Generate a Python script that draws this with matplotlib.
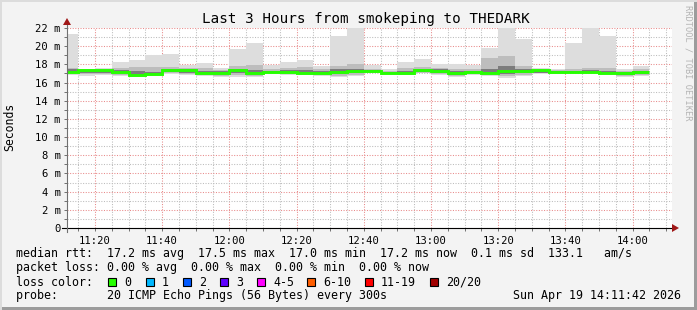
import numpy as np
import matplotlib
matplotlib.use("Agg")
import matplotlib.pyplot as plt
from matplotlib.patches import Rectangle, Polygon

# ---------------- data (ms, 5-minute steps starting 11:10) ----------------
step_start = np.arange(670, 845, 5)          # minutes since midnight, 11:10 .. 14:00
ping_max = [21.3, 17.5, 17.6, 18.3, 18.5, 19.0, 19.1, 17.9, 18.2, 17.6, 19.7, 20.4,
            17.9, 18.3, 18.5, 17.8, 21.1, 22.5, 17.95, 17.5, 18.3, 18.6, 18.0, 18.0,
            17.9, 19.8, 22.5, 20.8, 17.6, 17.5, 20.3, 22.5, 21.1, 17.5, 17.8]
ping_p90 = [17.6, 17.45, 17.5, 17.6, 17.7, 17.7, 17.7, 17.6, 17.6, 17.4, 17.8, 17.9,
            17.5, 17.6, 17.7, 17.5, 17.8, 18.0, 17.5, 17.3, 17.6, 17.7, 17.6, 17.5,
            17.5, 18.7, 18.9, 17.8, 17.5, 17.4, 17.5, 17.6, 17.6, 17.3, 17.5]
ping_p75 = [17.5, 17.4, 17.4, 17.4, 17.3, 17.2, 17.5, 17.45, 17.3, 17.25, 17.5, 17.4,
            17.3, 17.4, 17.4, 17.3, 17.5, 17.5, 17.4, 17.2, 17.3, 17.5, 17.45, 17.3,
            17.3, 17.5, 17.8, 17.5, 17.4, 17.3, 17.3, 17.35, 17.3, 17.2, 17.3]
ping_med = [17.15, 17.35, 17.35, 17.15, 16.85, 16.9, 17.35, 17.35, 17.1, 17.1, 17.35, 17.1,
            17.2, 17.2, 17.0, 17.0, 17.15, 17.3, 17.3, 17.1, 17.0, 17.35, 17.3, 17.1,
            17.15, 17.0, 17.3, 17.3, 17.35, 17.15, 17.2, 17.2, 17.0, 17.05, 17.15]
ping_p25 = [17.0, 17.1, 17.1, 17.0, 16.75, 16.8, 17.2, 17.1, 16.9, 16.9, 17.1, 16.9,
            17.1, 17.0, 16.95, 16.9, 16.9, 17.0, 17.2, 17.0, 16.9, 17.2, 17.1, 16.8,
            17.0, 16.9, 16.9, 17.0, 17.1, 17.0, 17.1, 17.1, 16.95, 16.8, 16.9]
ping_p10 = [16.9, 16.9, 16.9, 16.8, 16.65, 16.75, 17.0, 16.9, 16.8, 16.7, 16.8, 16.7,
            17.0, 16.9, 16.9, 16.8, 16.7, 16.8, 17.1, 16.95, 16.85, 17.1, 16.9, 16.7,
            16.9, 16.8, 16.7, 16.8, 17.0, 16.95, 17.05, 17.05, 16.9, 16.7, 16.8]
ping_min = [16.8, 16.7, 16.8, 16.7, 16.6, 16.7, 16.9, 16.8, 16.7, 16.6, 16.6, 16.6,
            16.9, 16.8, 16.8, 16.7, 16.6, 16.7, 17.0, 16.9, 16.8, 17.0, 16.8, 16.6,
            16.8, 16.7, 16.5, 16.7, 16.9, 16.9, 17.0, 17.0, 16.9, 16.6, 16.7]

x_start, x_end = 671.7, 851.7                 # 11:11:42 .. 14:11:42
xtick_pos = [680, 700, 720, 740, 760, 780, 800, 820, 840]
xtick_labels = ["11:20", "11:40", "12:00", "12:20", "12:40", "13:00", "13:20", "13:40", "14:00"]
ytick_pos = [0, 2, 4, 6, 8, 10, 12, 14, 16, 18, 20, 22]
ytick_labels = ["0", "2 m", "4 m", "6 m", "8 m", "10 m", "12 m", "14 m", "16 m",
                "18 m", "20 m", "22 m"]

legend_rtt = "median rtt:  17.2 ms avg  17.5 ms max  17.0 ms min  17.2 ms now  0.1 ms sd  133.1   am/s"
legend_loss = "packet loss: 0.00 % avg  0.00 % max  0.00 % min  0.00 % now"
loss_labels = ["0", "1", "2", "3", "4-5", "6-10", "11-19", "20/20"]
loss_colors = ["#26ff00", "#00b8ff", "#0059ff", "#5e00ff", "#ff00ff", "#ff5e00", "#ff0000", "#a10000"]
probe_text = "probe:       20 ICMP Echo Pings (56 Bytes) every 300s"
date_text = "Sun Apr 19 14:11:42 2026"
title = "Last 3 Hours from smokeping to THEDARK"

# ---------------- figure ----------------
W, H = 697, 310
fig = plt.figure(figsize=(W / 100, H / 100), dpi=100, facecolor="#f3f3f3")
MONO = "DejaVu Sans Mono"

def fx(x):
    return x / W

def fy(y):
    return 1 - y / H

# frame
fig.patches.append(Rectangle((0, 0), 1, fy(307), transform=fig.transFigure,
                             facecolor="#9c9c9c", edgecolor="none", zorder=0))
fig.patches.append(Rectangle((fx(694), 0), fx(3), 1, transform=fig.transFigure,
                             facecolor="#9c9c9c", edgecolor="none", zorder=0))
fig.patches.append(Rectangle((0, fy(310)), fx(2), 1, transform=fig.transFigure,
                             facecolor="#dcdcdc", edgecolor="none", zorder=0))
fig.patches.append(Rectangle((0, fy(2)), 1, fy(0) - fy(2), transform=fig.transFigure,
                             facecolor="#dcdcdc", edgecolor="none", zorder=0))

L, R, T, B = 67, 672, 28, 228
ax = fig.add_axes([fx(L), fy(B), fx(R - L), fy(T) - fy(B)])
ax.set_facecolor("white")
ax.set_xlim(x_start, x_end)
ax.set_ylim(0, 22)

edges = np.append(step_start, step_start[-1] + 5).astype(float)

ax.stairs(ping_max, edges, baseline=ping_min, fill=True, color="#dddddd", zorder=2)
ax.stairs(ping_p90, edges, baseline=ping_p10, fill=True, color="#bdbdbd", zorder=3)
ax.stairs(ping_p75, edges, baseline=ping_p25, fill=True, color="#7c7c7c", zorder=4)
ax.stairs(ping_med, edges, baseline=None, color="#26ff00", linewidth=2.1, zorder=6)

# grid
ax.set_yticks(ytick_pos)
ax.set_yticklabels(ytick_labels, fontfamily=MONO, fontsize=7.6)
ax.set_yticks(np.arange(1, 22, 2), minor=True)
ax.set_xticks(xtick_pos)
ax.set_xticklabels(xtick_labels, fontfamily=MONO, fontsize=7.6)
ax.set_xticks(np.arange(675, 851, 5), minor=True)
ax.grid(which="major", color="#e88a8a", linestyle=(0, (1, 1.5)), linewidth=0.75, zorder=1)
ax.grid(which="minor", color="#bcbcbc", linestyle=(0, (1, 1.5)), linewidth=0.75, zorder=1)
ax.set_axisbelow(True)
ax.tick_params(which="both", length=2.5, width=0.7, color="#707070", pad=2)
ax.tick_params(axis="x", which="both", pad=3)
for s in ax.spines.values():
    s.set_visible(False)

# axis lines with arrows
fig.add_artist(plt.Line2D([fx(62), fx(674)], [fy(B), fy(B)], transform=fig.transFigure,
                          color="#000000", linewidth=0.8, zorder=10))
fig.add_artist(plt.Line2D([fx(L), fx(L)], [fy(B + 4), fy(22)], transform=fig.transFigure,
                          color="#707070", linewidth=0.8, zorder=10))
fig.patches.append(Polygon([(fx(672), fy(224)), (fx(679), fy(B)), (fx(672), fy(232))],
                           closed=True, transform=fig.transFigure, facecolor="#a01818",
                           edgecolor="none", zorder=11))
fig.patches.append(Polygon([(fx(63), fy(25)), (fx(L), fy(18)), (fx(71), fy(25))],
                           closed=True, transform=fig.transFigure, facecolor="#a01818",
                           edgecolor="none", zorder=11))

# titles
fig.text(fx(366), fy(19), title, fontfamily=MONO, fontsize=10.3, ha="center", va="center")
fig.text(fx(10), fy(127), "Seconds", fontfamily=MONO, fontsize=8.3, rotation=90,
         ha="center", va="center")
fig.text(fx(688), fy(5), "RRDTOOL / TOBI OETIKER", fontfamily=MONO, fontsize=6.2,
         rotation=270, ha="center", va="top", color="#b4b4b4")

# legend
fs = 8.4
fig.text(fx(16), fy(254), legend_rtt, fontfamily=MONO, fontsize=fs, va="center")
fig.text(fx(16), fy(268), legend_loss, fontfamily=MONO, fontsize=fs, va="center")
fig.text(fx(16), fy(282), "loss color:", fontfamily=MONO, fontsize=fs, va="center")
box_x = [108, 146, 183, 220, 257, 307, 365, 430]
for bx, lab, col in zip(box_x, loss_labels, loss_colors):
    fig.patches.append(Rectangle((fx(bx), fy(286)), fx(8), fy(278) - fy(286),
                                 transform=fig.transFigure, facecolor=col,
                                 edgecolor="black", linewidth=0.8, zorder=5))
    fig.text(fx(bx + 16), fy(282), lab, fontfamily=MONO, fontsize=fs, va="center")
fig.text(fx(16), fy(296), probe_text, fontfamily=MONO, fontsize=fs, va="center")
fig.text(fx(681), fy(296), date_text, fontfamily=MONO, fontsize=fs, va="center", ha="right")

fig.savefig("out.png", dpi=100, facecolor=fig.get_facecolor())
